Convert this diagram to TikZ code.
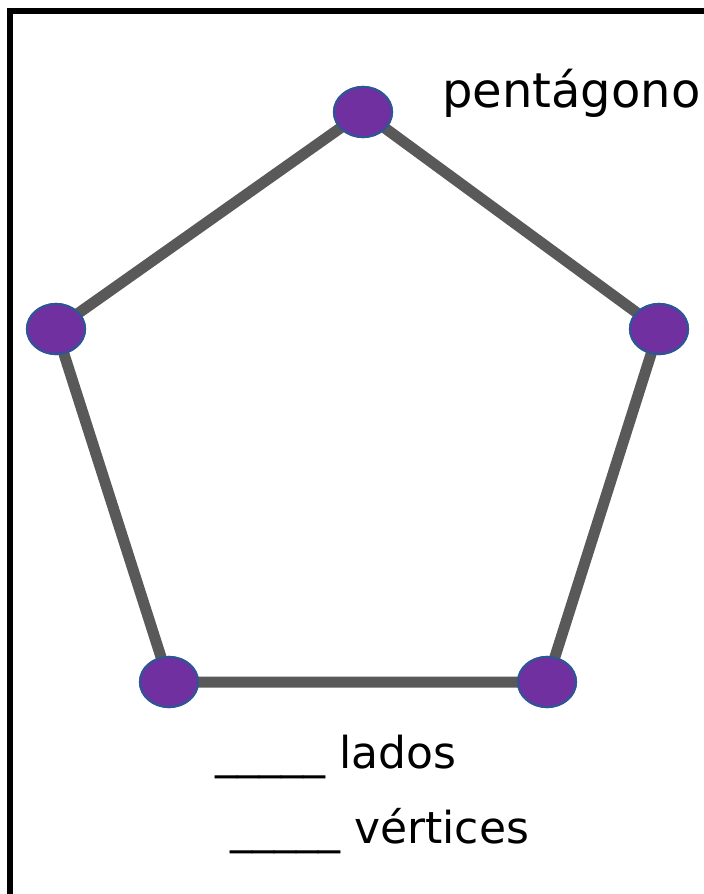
\documentclass[tikz,border=0pt]{standalone}
\usepackage{fontspec}
\setmainfont{DejaVu Sans}
\usetikzlibrary{shapes.geometric}
\definecolor{roxo}{HTML}{7030A0}
\definecolor{contorno}{HTML}{2F5597}
\definecolor{cinza}{HTML}{595959}
\begin{document}
\begin{tikzpicture}[x=0.75pt, y=-0.75pt,
  vertice/.style={ellipse, draw=contorno, line width=1.6pt, fill=roxo,
    minimum width=43.5pt, minimum height=37.5pt, inner sep=0pt},
  lado/.style={cinza, line width=8.25pt},
  rotulo/.style={anchor=base west, inner sep=0pt}]
  \useasboundingbox (0,0) rectangle (704,894);
  \draw[line width=4.5pt] (10,910) -- (10,11) -- (720,11);
  % vertices
  \node[vertice] (v1) at (363,112) {};
  \node[vertice] (v2) at (659,329) {};
  \node[vertice] (v3) at (547,682) {};
  \node[vertice] (v4) at (169,682) {};
  \node[vertice] (v5) at (56,329) {};
  \draw[lado] (v1.center) -- (v2.center) -- (v3.center) -- (v4.center) -- (v5.center) -- cycle;
  \foreach \v in {v1,v2,v3,v4,v5}
    \node[vertice] at (\v) {};
  % textos
  \node[rotulo, font=\fontsize{36}{40}\selectfont] (nome) at (442,107) {pentágono};
  \node[rotulo, font=\fontsize{33}{38}\selectfont] (lados) at (215,768) {\_\_\_\_\_ lados};
  \node[rotulo, font=\fontsize{33}{38}\selectfont] (verts) at (230,843) {\_\_\_\_\_ vértices};
\end{tikzpicture}
\end{document}
